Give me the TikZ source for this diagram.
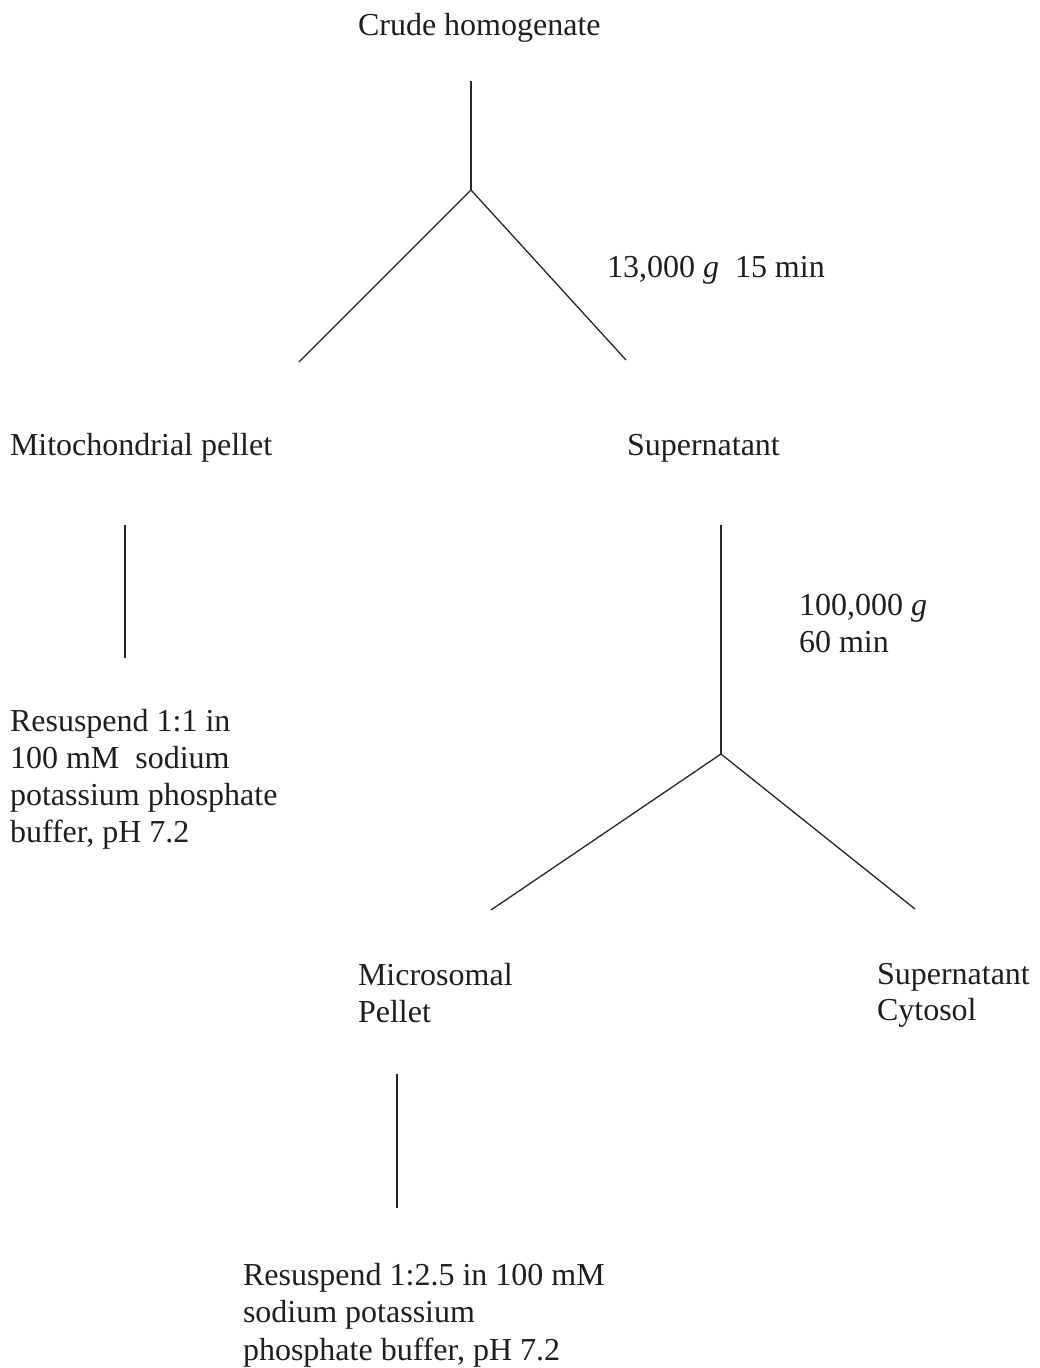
\documentclass[tikz,border=0pt]{standalone}
\usepackage{fontspec}
\setmainfont{Liberation Serif}
\begin{document}
\begin{tikzpicture}[x=1pt,y=-1pt,
  lbl/.style={anchor=base west,inner sep=0pt,outer sep=0pt,align=left,text=black!88,
    font=\fontsize{32}{37}\selectfont},
  conn/.style={draw=black!85,line width=1.3pt}]
\useasboundingbox (0,0) rectangle (1039,1368);
% texts (multi-line nodes are placed at the baseline of their last line)
\node[lbl] (crude) at (358,35) {Crude homogenate};
\node[lbl] (spin1) at (607,277) {13,000 \textit{g}\ \ 15 min};
\node[lbl] (mito) at (10,455) {Mitochondrial pellet};
\node[lbl] (sup1) at (627,455) {Supernatant};
\node[lbl] (res1) at (10,842) {Resuspend 1:1 in\\100 mM\ \ sodium\\potassium phosphate\\buffer, pH 7.2};
\node[lbl] (spin2) at (799,652) {100,000 \textit{g}\\60 min};
\node[lbl] (micro) at (358,1022) {Microsomal\\Pellet};
\node[lbl,font=\fontsize{32}{36}\selectfont] (cyto) at (877,1020) {Supernatant\\Cytosol};
\node[lbl,font=\fontsize{32}{37.5}\selectfont] (res2) at (243,1360) {Resuspend 1:2.5 in 100 mM\\sodium potassium\\phosphate buffer, pH 7.2};
% connector points
\coordinate (c1top) at (471,81);
\coordinate (j1) at (471,190);
\coordinate (j1l) at (299,362);
\coordinate (j1r) at (626,360);
\coordinate (m1top) at (125,525);
\coordinate (m1bot) at (125,658);
\coordinate (s1top) at (721,525);
\coordinate (j2) at (721,754);
\coordinate (j2l) at (491,910);
\coordinate (j2r) at (915,909);
\coordinate (p2top) at (397,1074);
\coordinate (p2bot) at (397,1208);
% connectors
\draw[conn] (c1top) -- (j1);
\draw[conn] (j1) -- (j1l);
\draw[conn] (j1) -- (j1r);
\draw[conn] (m1top) -- (m1bot);
\draw[conn] (s1top) -- (j2);
\draw[conn] (j2) -- (j2l);
\draw[conn] (j2) -- (j2r);
\draw[conn] (p2top) -- (p2bot);
\end{tikzpicture}
\end{document}
